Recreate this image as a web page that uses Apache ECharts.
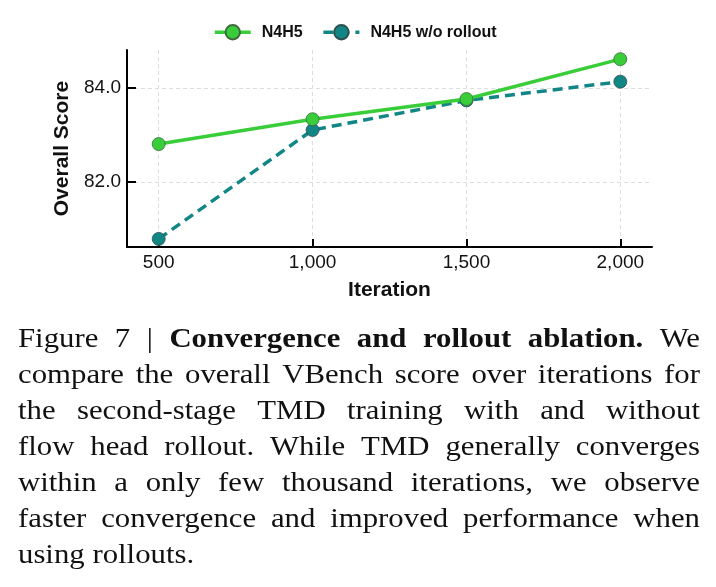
<!DOCTYPE html>
<html><head><meta charset="utf-8">
<script src="https://cdn.jsdelivr.net/npm/echarts@6/dist/echarts.min.js"></script>
<style>html,body{margin:0;padding:0;background:#fff}#c{width:716px;height:587px}</style>
</head><body><div id="c"></div>
<script>
// ---- data ----
const iterations = [500, 1000, 1500, 2000];
const n4h5 = [82.81, 83.34, 83.77, 84.62];
const n4h5NoRollout = [80.79, 83.11, 83.74, 84.14];
const xTicks = [500, 1000, 1500, 2000];
const yTicks = [82, 84];
const seriesNames = ['N4H5', 'N4H5 w/o rollout'];
const axisNames = ['Iteration', 'Overall Score'];
// words prefixed with * are bold
const captionLines = [
  'Figure 7 | *Convergence *and *rollout *ablation. We',
  'compare the overall VBench score over iterations for',
  'the second-stage TMD training with and without',
  'flow head rollout. While TMD generally converges',
  'within a only few thousand iterations, we observe',
  'faster convergence and improved performance when',
  'using rollouts.'
];

// ---- caption layout (justified) ----
const FS = 27, SX = 1.14, LEFT = 18, RIGHT = 700, BASE0 = 349.3, LH = 36;
const FAM = '"Liberation Serif", "Times New Roman", serif';
const mctx = document.createElement('canvas').getContext('2d');
const captionGraphics = [];
captionLines.forEach((line, i) => {
  const words = line.split(' ').map(w => ({ bold: w.charAt(0) === '*', text: w.replace(/^\*/, '') }));
  words.forEach(w => {
    mctx.font = (w.bold ? 'bold ' : '') + FS + 'px ' + FAM;
    w.width = mctx.measureText(w.text).width * SX;
  });
  mctx.font = FS + 'px ' + FAM;
  const spaceW = mctx.measureText(' ').width * SX;
  const total = words.reduce((s, w) => s + w.width, 0);
  const isLast = i === captionLines.length - 1;
  const gap = isLast ? spaceW : (RIGHT - LEFT - total) / (words.length - 1);
  let x = LEFT;
  words.forEach(w => {
    captionGraphics.push({
      type: 'text', x: x, y: BASE0 + LH * i - 0.34 * FS, scaleX: SX,
      style: {
        text: w.text, x: 0, y: 0,
        font: (w.bold ? 'bold ' : '') + FS + 'px ' + FAM,
        fill: '#111',
        textAlign: 'left', align: 'left',
        textVerticalAlign: 'middle', verticalAlign: 'middle'
      }
    });
    x += w.width + gap;
  });
});

const GREEN = '#3acd3a', TEAL = '#128585';
const chart = echarts.init(document.getElementById('c'), null, { renderer: 'canvas' });
chart.setOption({
  animation: false,
  backgroundColor: '#fff',
  textStyle: { fontFamily: '"Liberation Sans", Arial, sans-serif' },
  legend: {
    data: seriesNames,
    top: 24, left: 213,
    padding: 0,
    itemWidth: 36, itemHeight: 18, itemGap: 19,
    lineStyle: { width: 3.5 },
    textStyle: { fontSize: 16, fontWeight: 'bold', color: '#111', padding: [0, 0, 0, 6] }
  },
  grid: { left: 127, right: 64, top: 50, bottom: 340, containLabel: false, outerBoundsMode: 'none' },
  xAxis: {
    type: 'value', min: 397, max: 2103,
    name: axisNames[0], nameLocation: 'middle', nameGap: 33,
    nameTextStyle: { fontSize: 21, fontWeight: 'bold', color: '#111' },
    axisLine: { lineStyle: { color: '#000', width: 2 } },
    axisTick: { show: true, inside: true, length: 8, lineStyle: { color: '#000', width: 2 }, customValues: xTicks },
    axisLabel: { fontSize: 19, color: '#111', margin: 6, customValues: xTicks,
      formatter: v => v.toLocaleString('en-US') },
    splitLine: { show: true, lineStyle: { color: '#dedede', width: 1, type: [4, 3] } }
  },
  yAxis: {
    type: 'value', min: 80.617, max: 84.815,
    name: axisNames[1], nameLocation: 'middle', nameGap: 43, nameRotate: 90,
    nameTextStyle: { fontSize: 21, fontWeight: 'bold', color: '#111' },
    axisLine: { show: true, lineStyle: { color: '#000', width: 2 } },
    axisTick: { show: true, inside: true, length: 9, lineStyle: { color: '#000', width: 2 }, customValues: yTicks },
    axisLabel: { fontSize: 19, color: '#111', margin: 6, customValues: yTicks,
      formatter: v => v.toFixed(1) },
    splitLine: { show: true, lineStyle: { color: '#dedede', width: 1, type: [4, 3] } }
  },
  series: [
    {
      name: seriesNames[1], type: 'line', z: 2,
      data: iterations.map((x, i) => [x, n4h5NoRollout[i]]),
      symbol: 'circle', symbolSize: 13,
      lineStyle: { color: TEAL, width: 3.5, type: [10, 6] },
      itemStyle: { color: TEAL, borderColor: '#2f4f4f', borderWidth: 0.8 }
    },
    {
      name: seriesNames[0], type: 'line', z: 3,
      data: iterations.map((x, i) => [x, n4h5[i]]),
      symbol: 'circle', symbolSize: 13,
      lineStyle: { color: GREEN, width: 3.5 },
      itemStyle: { color: GREEN, borderColor: '#3d6b3d', borderWidth: 0.8 }
    }
  ],
  graphic: captionGraphics
});
</script></body></html>
